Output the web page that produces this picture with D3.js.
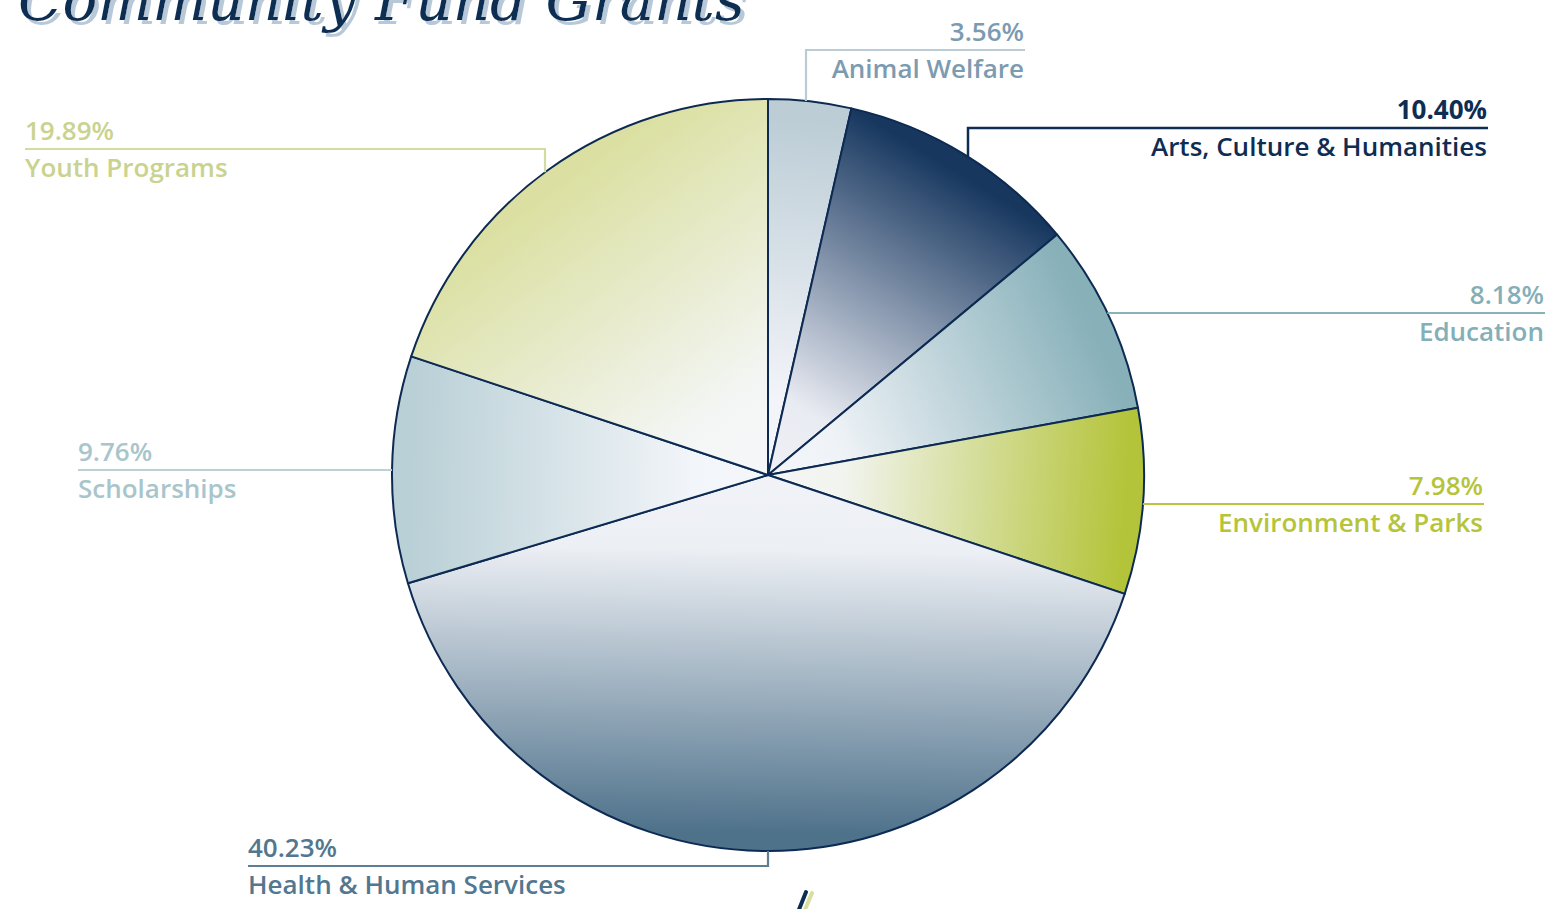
<!DOCTYPE html>
<html>
<head>
<meta charset="utf-8">
<script src="https://cdn.jsdelivr.net/npm/d3@7"></script>
<style>
  html, body { margin: 0; padding: 0; background: #fff; }
  svg { display: block; }
  .lbl { font-family: "Open Sans", Lato, sans-serif; font-size: 26px; }
</style>
</head>
<body>
<div id="chart"></div>
<script>
// data
const categories = ["Animal Welfare", "Arts, Culture & Humanities", "Education", "Environment & Parks",
                    "Health & Human Services", "Scholarships", "Youth Programs"];
const shares = [3.56, 10.40, 8.18, 7.98, 40.23, 9.76, 19.89];
const shareLabels = ["3.56%", "10.40%", "8.18%", "7.98%", "40.23%", "9.76%", "19.89%"];
const sliceColors = ["#bccdd6", "#17375f", "#87b0b9", "#b4c43a", "#4f728b", "#b9d0d6", "#dbe0a2"];
const textColors = ["#7d9bb0", "#0f2d52", "#84afb8", "#b5c43a", "#52778f", "#a9c5cc", "#c9d38f"];
const lineColors = ["#b9ccd6", "#0f2d52", "#88b2ba", "#b8c63e", "#5c7f96", "#bcd0d6", "#d3dba0"];

// where each leader line goes (screen coords)
const labelLayout = [
  { kind: "up",    elbowX: 806,  lineY: 50,  x0: 806,  x1: 1025, anchor: "end" },
  { kind: "up",    elbowX: 968,  lineY: 128, x0: 968,  x1: 1488, anchor: "end" },
  { kind: "flat",  lineY: 313, x1: 1545, anchor: "end" },
  { kind: "flat",  lineY: 504, x1: 1484, anchor: "end" },
  { kind: "down",  elbowX: 768,  lineY: 866, x0: 248,  x1: 768,  anchor: "start" },
  { kind: "flat",  lineY: 470, x0: 78, anchor: "start" },
  { kind: "up",    elbowX: 545,  lineY: 149, x0: 25,   x1: 545,  anchor: "start" }
];

const width = 1567;
const height = 909;
const cx = 768, cy = 475, radius = 376;

const svg = d3.select("#chart").append("svg")
    .attr("width", width)
    .attr("height", height);

const defs = svg.append("defs");

// light-blue offset shadow for the title
defs.append("filter")
    .attr("id", "titleShadow")
    .attr("x", "-5%").attr("y", "-50%").attr("width", "110%").attr("height", "200%")
  .append("feDropShadow")
    .attr("dx", 4).attr("dy", 4).attr("stdDeviation", 0)
    .attr("flood-color", "#b7c8d8").attr("flood-opacity", 1);

// title (cropped off the top, as in the reference)
svg.append("text")
    .attr("x", 18).attr("y", 20)
    .attr("font-family", "DejaVu Serif")
    .attr("font-style", "italic")
    .attr("font-size", 58)
    .attr("fill", "#0f2d52")
    .attr("filter", "url(#titleShadow)")
    .text("Community Fund Grants");

const pie = d3.pie().sort(null).value(d => d);
const arcs = pie(shares);
const arc = d3.arc().innerRadius(0).outerRadius(radius);

// one linear gradient per slice, running along the slice bisector
arcs.forEach((a, i) => {
  const mid = (a.startAngle + a.endAngle) / 2;
  const g = defs.append("linearGradient")
      .attr("id", "grad" + i)
      .attr("gradientUnits", "userSpaceOnUse")
      .attr("x1", 0).attr("y1", 0)
      .attr("x2", radius * Math.sin(mid))
      .attr("y2", -radius * Math.cos(mid));
  g.append("stop").attr("offset", 0).attr("stop-color", d3.interpolateRgb("#f6f7fb", sliceColors[i])(0.03));
  g.append("stop").attr("offset", 0.2).attr("stop-color", d3.interpolateRgb("#f6f7fb", sliceColors[i])(0.06));
  g.append("stop").attr("offset", 0.95).attr("stop-color", sliceColors[i]);
});

const pieG = svg.append("g").attr("transform", `translate(${cx},${cy})`);

pieG.selectAll("path")
    .data(arcs)
    .enter()
    .append("path")
    .attr("d", arc)
    .attr("fill", (d, i) => `url(#grad${i})`)
    .attr("stroke", "#0d2a52")
    .attr("stroke-width", 2)
    .attr("stroke-linejoin", "round");

// leader lines + labels
const labelG = svg.append("g");

labelLayout.forEach((L, i) => {
  let pts;
  if (L.kind === "up") {
    const dx = L.elbowX - cx;
    const rimY = cy - Math.sqrt(radius * radius - dx * dx);
    if (L.anchor === "end") {
      pts = [[L.elbowX, rimY], [L.elbowX, L.lineY], [L.x1, L.lineY]];
    } else {
      pts = [[L.elbowX, rimY], [L.elbowX, L.lineY], [L.x0, L.lineY]];
    }
  } else if (L.kind === "down") {
    const dx = L.elbowX - cx;
    const rimY = cy + Math.sqrt(radius * radius - dx * dx);
    pts = [[L.elbowX, rimY], [L.elbowX, L.lineY], [L.x0, L.lineY]];
  } else {
    const dy = L.lineY - cy;
    const half = Math.sqrt(radius * radius - dy * dy);
    if (L.anchor === "end") {
      pts = [[cx + half, L.lineY], [L.x1, L.lineY]];
    } else {
      pts = [[cx - half, L.lineY], [L.x0, L.lineY]];
    }
  }

  labelG.append("path")
      .attr("d", d3.line()(pts))
      .attr("fill", "none")
      .attr("stroke", lineColors[i])
      .attr("stroke-width", i === 1 ? 2.5 : 2.2);

  const tx = L.anchor === "end" ? L.x1 - 1 : (L.x0 !== undefined ? L.x0 : L.x1);

  labelG.append("text")
      .attr("class", "lbl")
      .attr("x", tx)
      .attr("y", L.lineY - 9)
      .attr("text-anchor", L.anchor)
      .attr("fill", textColors[i])
      .attr("font-weight", i === 1 ? 700 : 600)
      .text(shareLabels[i]);

  labelG.append("text")
      .attr("class", "lbl")
      .attr("x", tx)
      .attr("y", L.lineY + 28)
      .attr("text-anchor", L.anchor)
      .attr("fill", textColors[i])
      .attr("font-weight", 600)
      .text(categories[i]);
});

// small decorative strokes at the bottom edge
svg.append("line")
    .attr("x1", 812).attr("y1", 893).attr("x2", 804).attr("y2", 912)
    .attr("stroke", "#d8dfa0").attr("stroke-width", 4).attr("stroke-linecap", "round");
svg.append("line")
    .attr("x1", 806).attr("y1", 892).attr("x2", 798).attr("y2", 912)
    .attr("stroke", "#0f2d52").attr("stroke-width", 4).attr("stroke-linecap", "round");
</script>
</body>
</html>
